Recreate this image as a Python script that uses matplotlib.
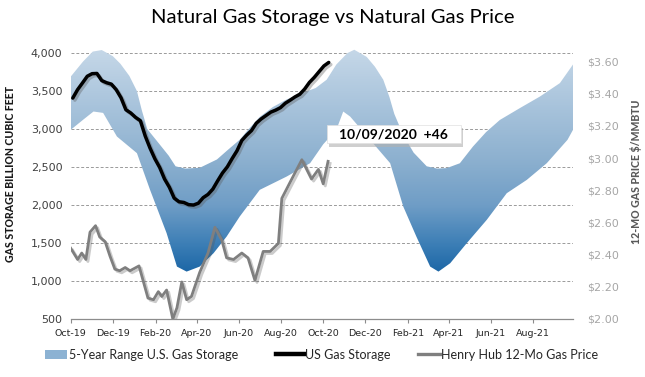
import numpy as np
import pandas as pd
import matplotlib
matplotlib.use("Agg")
import matplotlib.pyplot as plt
import matplotlib.dates as mdates
from matplotlib.colors import LinearSegmentedColormap
from matplotlib.patches import Rectangle, Patch
from matplotlib.lines import Line2D
import matplotlib.patheffects as pe

# ---------------- data ----------------
upper_dates = ["2019-10-01", "2019-10-19", "2019-11-02", "2019-11-15", "2019-12-01", "2019-12-12",
               "2019-12-25", "2020-01-05", "2020-01-12", "2020-01-20", "2020-02-05", "2020-02-20",
               "2020-03-01", "2020-03-15", "2020-04-05", "2020-04-30", "2020-05-15", "2020-06-02",
               "2020-06-15", "2020-07-01", "2020-07-20", "2020-08-09", "2020-08-30", "2020-09-20",
               "2020-10-06", "2020-10-20", "2020-11-05", "2020-11-15", "2020-12-03", "2020-12-15",
               "2020-12-27", "2021-01-05", "2021-01-12", "2021-01-25", "2021-02-09", "2021-02-28",
               "2021-03-15", "2021-03-29", "2021-04-17", "2021-05-06", "2021-05-25", "2021-06-14",
               "2021-07-13", "2021-08-11", "2021-09-09", "2021-09-28"]
upper_vals = [3690, 3890, 4020, 4040, 3960, 3860,
              3700, 3500, 3250, 3000, 2820, 2650,
              2510, 2480, 2490, 2600, 2720, 2860,
              3000, 3160, 3290, 3390, 3470, 3540,
              3650, 3850, 4000, 4044, 3950, 3820,
              3650, 3420, 3200, 2920, 2690, 2510,
              2480, 2486, 2550, 2770, 2960, 3120,
              3276, 3428, 3605, 3850]

lower_dates = ["2019-10-01", "2019-10-20", "2019-11-03", "2019-11-17", "2019-12-07", "2020-01-05",
               "2020-01-24", "2020-02-17", "2020-03-03", "2020-03-17", "2020-04-05", "2020-04-25",
               "2020-05-14", "2020-06-02", "2020-07-01", "2020-08-09", "2020-09-12", "2020-10-01",
               "2020-10-20", "2020-10-30", "2020-11-09", "2020-12-08", "2021-01-06", "2021-01-25",
               "2021-02-13", "2021-03-05", "2021-03-17", "2021-04-03", "2021-04-27", "2021-05-26",
               "2021-06-24", "2021-07-23", "2021-08-21", "2021-09-20", "2021-09-28"]
lower_vals = [2990, 3130, 3231, 3213, 2902, 2683,
              2200, 1630, 1190, 1124, 1190, 1366,
              1585, 1849, 2200, 2375, 2551, 2800,
              2990, 3231, 3165, 2858, 2551, 1980,
              1585, 1190, 1124, 1234, 1498, 1805,
              2156, 2331, 2551, 2858, 2990]

storage_dates = pd.date_range("2019-10-04", "2020-10-09", freq="7D")
storage_vals = [3408, 3519, 3606, 3695, 3729, 3732, 3638, 3610, 3591, 3518,
                3411, 3254, 3212, 3154, 3110, 2909, 2749, 2609, 2494, 2343,
                2234, 2091, 2043, 2034, 2005, 2000, 2024, 2097, 2140, 2210,
                2319, 2422, 2503, 2612, 2714, 2850, 2920, 2980, 3077, 3133,
                3178, 3223, 3249, 3282, 3340, 3380, 3423, 3458, 3526, 3614,
                3680, 3756, 3831, 3877]

price_dates = ["2019-10-01", "2019-10-11", "2019-10-17", "2019-10-23", "2019-10-29", "2019-11-06",
               "2019-11-12", "2019-11-20", "2019-11-27", "2019-12-04", "2019-12-11", "2019-12-19",
               "2019-12-26", "2020-01-08", "2020-01-21", "2020-01-29", "2020-02-05", "2020-02-10",
               "2020-02-17", "2020-02-26", "2020-03-03", "2020-03-10", "2020-03-17", "2020-03-24",
               "2020-04-05", "2020-04-17", "2020-04-27", "2020-05-07", "2020-05-14", "2020-05-24",
               "2020-06-05", "2020-06-14", "2020-06-24", "2020-07-06", "2020-07-16", "2020-07-28",
               "2020-08-02", "2020-08-14", "2020-08-31", "2020-09-14", "2020-09-24", "2020-10-01",
               "2020-10-08"]
price_vals = [2.44, 2.37, 2.41, 2.37, 2.54, 2.58,
              2.51, 2.48, 2.39, 2.31, 2.30, 2.32,
              2.30, 2.33, 2.13, 2.12, 2.17, 2.14,
              2.18, 2.00, 2.07, 2.23, 2.12, 2.14,
              2.29, 2.41, 2.57, 2.49, 2.38, 2.37,
              2.41, 2.38, 2.24, 2.42, 2.42, 2.47,
              2.75, 2.85, 2.99, 2.87, 2.93, 2.84,
              2.98]

left_ticks = [500, 1000, 1500, 2000, 2500, 3000, 3500, 4000]
right_ticks = [2.0, 2.2, 2.4, 2.6, 2.8, 3.0, 3.2, 3.4, 3.6]

title = "Natural Gas Storage vs Natural Gas Price"
annotation = "10/09/2020  +46"
legend_labels = ["5-Year Range U.S. Gas Storage", "US Gas Storage", "Henry Hub 12-Mo Gas Price"]

# ---------------- figure ----------------
W, H = 645, 377
fig = plt.figure(figsize=(W / 100, H / 100), dpi=100)
L, R, T, B = 70.7, 573, 45.5, 319
ax = fig.add_axes([L / W, 1 - B / H, (R - L) / W, (B - T) / H])
ax2 = ax.twinx()

ud = mdates.date2num(pd.to_datetime(upper_dates))
ld = mdates.date2num(pd.to_datetime(lower_dates))
xmin = mdates.date2num(pd.Timestamp("2019-10-01"))
xmax = mdates.date2num(pd.Timestamp("2021-09-28"))

# band polygon with vertical gradient
poly_x = np.concatenate([ud, ld[::-1]])
poly_y = np.concatenate([upper_vals, lower_vals[::-1]])
poly = ax.fill(poly_x, poly_y, facecolor="none", edgecolor="none")[0]
cmap = LinearSegmentedColormap.from_list(
    "band", [(0.0, "#1c66a6"), (0.12, "#3a7db5"), (0.3, "#6f9dc6"),
             (0.5, "#8cb0cf"), (0.75, "#a9c4dc"), (1.0, "#c6d8e8")])
grad = np.linspace(0, 1, 256).reshape(-1, 1)
im = ax.imshow(grad, cmap=cmap, origin="lower", aspect="auto",
               extent=[xmin, xmax, 1110, 4060], zorder=2, interpolation="bilinear")
im.set_clip_path(poly)

# storage line
sd = mdates.date2num(storage_dates)
ax.plot(sd, storage_vals, color="black", lw=2.5, zorder=4, solid_capstyle="round",
        path_effects=[pe.SimpleLineShadow(offset=(1.5, -1.5), shadow_color="#555555", alpha=0.35),
                      pe.Normal()])

# price line
pdn = mdates.date2num(pd.to_datetime(price_dates))
ax2.plot(pdn, price_vals, color="#7f7f7f", lw=2.0, zorder=4,
         path_effects=[pe.SimpleLineShadow(offset=(1.5, -1.5), shadow_color="#555555", alpha=0.3),
                       pe.Normal()])

# axes setup
ax.set_xlim(xmin, xmax)
ax2.set_xlim(xmin, xmax)
ax.set_ylim(500, 4100)
ax2.set_ylim(2.0, 3.7)
ax.set_yticks(left_ticks)
ax.set_yticklabels([f"{v:,}" for v in left_ticks])
ax2.set_yticks(right_ticks)
ax2.set_yticklabels([f"${v:.2f}" for v in right_ticks])

for v in left_ticks[1:]:
    ax.axhline(v, color="#9a9a9a", lw=0.7, ls=(0, (3, 2)), zorder=1)

for a in (ax, ax2):
    for s in ("top", "left", "right"):
        a.spines[s].set_visible(False)
ax2.spines["bottom"].set_visible(False)
ax.spines["bottom"].set_color("#8c8c8c")
ax.spines["bottom"].set_linewidth(0.9)

ax.tick_params(axis="y", length=0, labelsize=8, labelcolor="#404040", pad=6)
ax2.tick_params(axis="y", length=0, labelsize=8, labelcolor="#a6a6a6", pad=10)
ax.xaxis.set_major_locator(mdates.MonthLocator(bymonth=[2, 4, 6, 8, 10, 12]))
ax.xaxis.set_major_formatter(mdates.DateFormatter("%b-%y"))
ax.tick_params(axis="x", length=3, width=0.8, color="#8c8c8c", labelsize=6.8,
               labelcolor="#262626", pad=4)
ax2.tick_params(axis="x", bottom=False, labelbottom=False)

# axis labels
fig.text(11 / W, 1 - 174 / H, "GAS STORAGE BILLION CUBIC FEET", rotation=90,
         ha="center", va="center", fontsize=7.6, fontweight="black", color="#1a1a1a",
         family="Lato")
fig.text(636 / W, 1 - 172 / H, "12-MO GAS PRICE $/MMBTU", rotation=90,
         ha="center", va="center", fontsize=7.6, fontweight="black", color="#595959",
         family="Lato")

# title
fig.text(333 / W, 1 - 17 / H, title, ha="center", va="center", fontsize=14.6,
         color="black", family="Lato")

# annotation box
bx0, bx1 = (326.7 - L) / (R - L), (461 - L) / (R - L)
by0, by1 = (B - 143.3) / (B - T), (B - 125) / (B - T)
shadow = Rectangle((bx0 + 0.004, by0 - 0.012), bx1 - bx0, by1 - by0, transform=ax2.transAxes,
                   facecolor="#b0b0b0", edgecolor="none", alpha=0.6, zorder=9)
box = Rectangle((bx0, by0), bx1 - bx0, by1 - by0, transform=ax2.transAxes,
                facecolor="white", edgecolor="#e0e0e0", lw=0.5, zorder=10)
ax2.add_patch(shadow)
ax2.add_patch(box)
ax2.text((bx0 + bx1) / 2, (by0 + by1) / 2, annotation, transform=ax2.transAxes,
         ha="center", va="center", fontsize=10, fontweight="bold", color="black", zorder=11,
         family="Lato")

# legend (three single-entry legends placed like the reference)
handles = [Patch(facecolor="#8cb2d3", edgecolor="none"),
           Line2D([0], [0], color="black", lw=3.2),
           Line2D([0], [0], color="#7f7f7f", lw=2.4)]
starts = [45, 276, 418]
hlens = [1.75, 2.25, 1.75]
pads = [0.2, 0.1, 0.1]
for h, lab, x0, hl, tp in zip(handles, legend_labels, starts, hlens, pads):
    fig.legend([h], [lab], loc="center left", bbox_to_anchor=(x0 / W, 1 - 355 / H),
               frameon=False, handlelength=hl, handleheight=0.8, handletextpad=tp,
               borderpad=0, borderaxespad=0, labelcolor="#262626",
               prop={"family": "Lato", "size": 9})

fig.savefig("out.png", dpi=100)
